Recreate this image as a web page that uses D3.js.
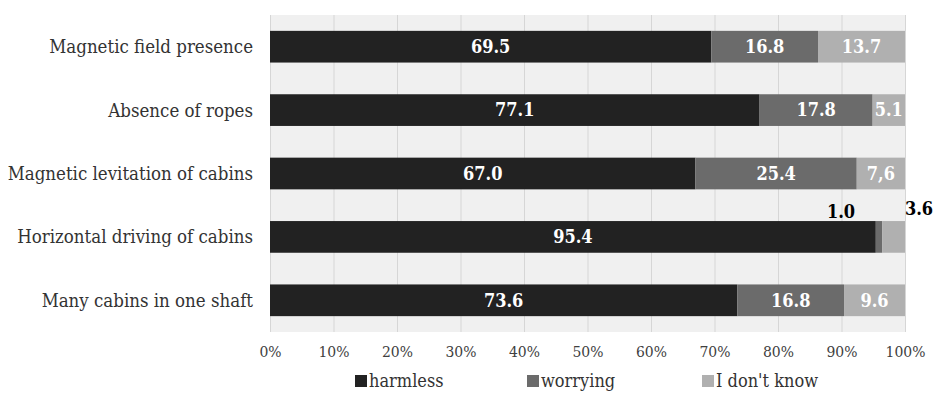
<!DOCTYPE html>
<html lang="en">
<head>
<meta charset="UTF-8" />
<title>Stacked bars</title>
<style>
  body { margin: 0; background: #fff; }
</style>
</head>
<body>
<script src="https://cdn.jsdelivr.net/npm/d3@7"></script>
<script>

var categories = [
  "Magnetic field presence",
  "Absence of ropes",
  "Magnetic levitation of cabins",
  "Horizontal driving of cabins",
  "Many cabins in one shaft"
];
var seriesNames = ["harmless", "worrying", "I don't know"];
var harmless = [69.5, 77.1, 67.0, 95.4, 73.6];
var worrying = [16.8, 17.8, 25.4, 1.0, 16.8];
var dontKnow = [13.7, 5.1, 7.6, 3.6, 9.6];
// labels as printed in the source (note the "7,6")
var harmlessLabels = ["69.5", "77.1", "67.0", "95.4", "73.6"];
var worryingLabels = ["16.8", "17.8", "25.4", "1.0", "16.8"];
var dontKnowLabels = ["13.7", "5.1", "7,6", "3.6", "9.6"];
var tickValues = [0, 10, 20, 30, 40, 50, 60, 70, 80, 90, 100];

var width = 937, height = 394;
var margin = {top: 15, right: 32, bottom: 62, left: 270};
var colors = ["#222222", "#6b6b6b", "#b0b0b0"];
var serif = "'DejaVu Serif Condensed', 'DejaVu Serif', serif";

var svg = d3.select("body").append("svg")
  .attr("width", width)
  .attr("height", height)
  .style("font-family", serif)
  .style("font-stretch", "condensed");

var x = d3.scaleLinear().domain([0, 100]).range([margin.left, width - margin.right]);
var y = d3.scaleBand().domain(categories)
  .range([margin.top, height - margin.bottom])
  .paddingInner(0.5).paddingOuter(0.25);

var rows = categories.map(function(c, i) {
  return {cat: c, harmless: harmless[i], worrying: worrying[i], dontKnow: dontKnow[i],
    labels: [harmlessLabels[i], worryingLabels[i], dontKnowLabels[i]]};
});
var stack = d3.stack().keys(["harmless", "worrying", "dontKnow"]);
var series = stack(rows);

// plot background
svg.append("rect")
  .attr("x", x(0)).attr("y", margin.top)
  .attr("width", x(100) - x(0)).attr("height", height - margin.bottom - margin.top)
  .attr("fill", "#f0f0f0");

// gridlines
svg.append("g").selectAll("line")
  .data(tickValues)
  .enter().append("line")
  .attr("x1", d => x(d) + 0.5).attr("x2", d => x(d) + 0.5)
  .attr("y1", margin.top).attr("y2", height - margin.bottom)
  .attr("stroke", "#d6d6d6").attr("stroke-width", 1);

// bars
var layers = svg.append("g").selectAll("g")
  .data(series)
  .enter().append("g")
  .attr("fill", (d, i) => colors[i]);

layers.selectAll("rect")
  .data(d => d)
  .enter().append("rect")
  .attr("x", d => x(d[0]))
  .attr("y", d => y(d.data.cat))
  .attr("width", d => x(d[1]) - x(d[0]))
  .attr("height", y.bandwidth());

// value labels (tiny segments get their label above the bar, in black)
series.forEach(function(s, si) {
  svg.append("g").selectAll("text")
    .data(s)
    .enter().append("text")
    .attr("x", function(d) {
      var small = (d[1] - d[0]) < 4.5;
      if (small) return si === 2 ? x(100) + 14 : x((d[0] + d[1]) / 2) - 38;
      return x((d[0] + d[1]) / 2);
    })
    .attr("y", function(d) {
      var small = (d[1] - d[0]) < 4.5;
      if (small) return y(d.data.cat) - (si === 2 ? 12 : 9);
      return y(d.data.cat) + y.bandwidth() / 2;
    })
    .attr("dy", "0.35em")
    .attr("text-anchor", "middle")
    .attr("font-size", "18px")
    .attr("font-weight", "bold")
    .attr("fill", d => (d[1] - d[0]) < 4.5 ? "#000" : "#fff")
    .text(d => d.data.labels[si]);
});

// y axis labels
svg.append("g").selectAll("text")
  .data(categories)
  .enter().append("text")
  .attr("x", margin.left - 17)
  .attr("y", d => y(d) + y.bandwidth() / 2)
  .attr("dy", "0.35em")
  .attr("text-anchor", "end")
  .attr("font-size", "18.5px")
  .attr("fill", "#333")
  .text(d => d);

// x axis
var xAxis = d3.axisBottom(x).tickValues(tickValues).tickSize(0).tickPadding(14)
  .tickFormat(d => d + "%");
var gx = svg.append("g")
  .attr("transform", "translate(0," + (height - margin.bottom) + ")")
  .call(xAxis)
  .attr("font-family", null)
  .attr("font-size", 15.5);
gx.select(".domain").remove();
gx.selectAll("text")
  .attr("fill", "#404040");

// legend
var legendX = [355, 527, 702];
var legend = svg.append("g").selectAll("g")
  .data(seriesNames)
  .enter().append("g")
  .attr("transform", (d, i) => "translate(" + legendX[i] + ",381)");
legend.append("rect")
  .attr("x", 0).attr("y", -6).attr("width", 12).attr("height", 12)
  .attr("fill", (d, i) => colors[i]);
legend.append("text")
  .attr("x", 14).attr("y", 0).attr("dy", "0.35em")
  .attr("font-size", "18px")
  .attr("fill", "#333")
  .text(d => d);

</script>
</body>
</html>
